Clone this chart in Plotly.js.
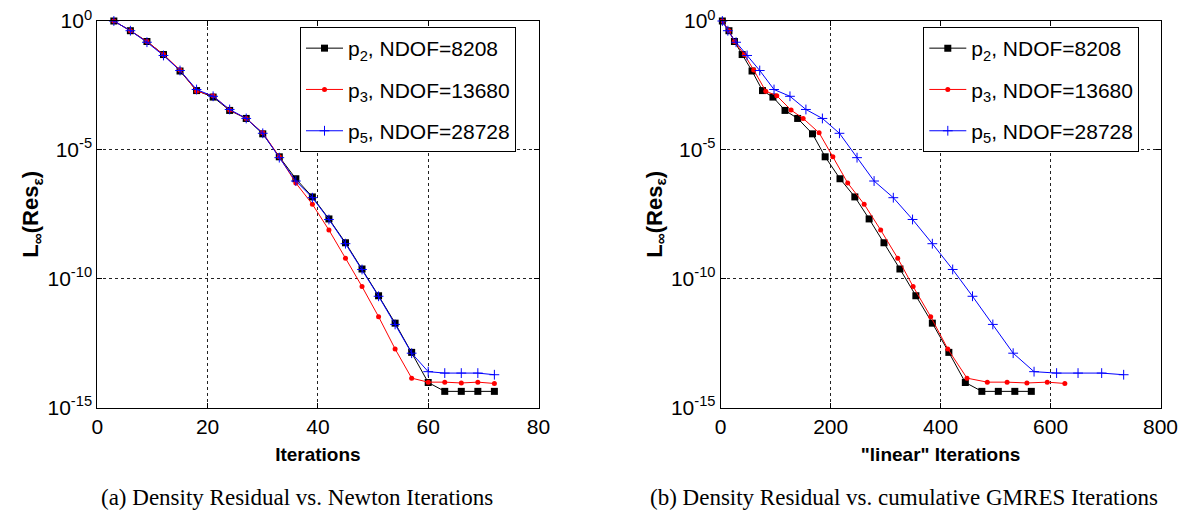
<!DOCTYPE html>
<html>
<head>
<meta charset="utf-8">
<script src="https://cdn.plot.ly/plotly-3.0.1.min.js"></script>
<style>html,body{margin:0;padding:0;background:#fff;}#chart{width:1191px;height:517px;}</style>
</head>
<body>
<div id="chart"></div>
<script>
// Newton iteration numbers (left panel)
const newtonIters = [3,6,9,12,15,18,21,24,27,30,33,36,39,42,45,48,51,54,57,60,63,66,69,72];
// cumulative GMRES ("linear") iterations (right panel)
const linearP2 = [3,15,25,39,57,76,95,117,140,167,190,217,244,270,297,326,355,385,415,445,475,505,535,565];
const linearP3 = [3,15,25,43,60,82,102,128,150,179,204,231,261,291,322,350,382,413,448,485,521,557,594,626];
const linearP5 = [3,13,28,48,71,97,126,155,185,216,248,279,314,349,385,422,458,495,532,570,611,650,693,733];
// Density residual L_inf
const resP2 = [1,4.2e-1,1.6e-1,5.0e-2,1.15e-2,2.0e-3,1.12e-3,3.4e-4,1.66e-4,4.2e-5,5.4e-6,7.6e-7,1.5e-7,2.1e-8,2.5e-9,2.4e-10,2.2e-11,1.9e-12,1.4e-13,9.5e-15,4.3e-15,4.3e-15,4.3e-15,4.3e-15];
const resP3 = [1,4.2e-1,1.6e-1,5.0e-2,1.26e-2,1.9e-3,1.26e-3,3.5e-4,1.66e-4,4.6e-5,5.4e-6,5.2e-7,7.8e-8,7.8e-9,6.3e-10,5.0e-11,3.4e-12,1.9e-13,1.4e-14,9.8e-15,9.8e-15,9.1e-15,9.8e-15,8.7e-15];
const resP5 = [1,4.2e-1,1.5e-1,4.6e-2,1.2e-2,2.2e-3,1.2e-3,3.7e-4,1.66e-4,4.4e-5,5.0e-6,6.2e-7,1.4e-7,2.0e-8,2.3e-9,2.3e-10,2.1e-11,1.7e-12,1.3e-13,2.5e-14,2.2e-14,2.2e-14,2.2e-14,1.9e-14];
const seriesNames = ['p<sub>2</sub>, NDOF=8208','p<sub>3</sub>, NDOF=13680','p<sub>5</sub>, NDOF=28728'];
const yTickVals = [1e-15,1e-10,1e-5,1];
const yTickText = ['10<sup>-15</sup>','10<sup>-10</sup>','10<sup>-5</sup>','10<sup>0</sup>'];
const xTitles = ['Iterations','"linear" Iterations'];
const captions = ['(a) Density Residual vs. Newton Iterations','(b) Density Residual vs. cumulative GMRES Iterations'];

const styles = [
  {color:'#000000', marker:{symbol:'square', size:7, color:'#000000'}},
  {color:'#ff0000', marker:{symbol:'circle', size:5, color:'#ff0000'}},
  {color:'#0000ff', marker:{symbol:'cross-thin', size:7, color:'#0000ff', line:{color:'#0000ff', width:1}}}
];
const resAll = [resP2,resP3,resP5];
const linAll = [linearP2,linearP3,linearP5];

const traces = [];
for (let i=0;i<3;i++){
  traces.push({x:newtonIters, y:resAll[i], type:'scatter', mode:'lines+markers', name:seriesNames[i],
    line:{color:styles[i].color, width:1}, marker:styles[i].marker, xaxis:'x', yaxis:'y',
    legend:'legend', legendgroup:'a'+i, cliponaxis:false});
}
for (let i=0;i<3;i++){
  traces.push({x:linAll[i], y:resAll[i], type:'scatter', mode:'lines+markers', name:seriesNames[i],
    line:{color:styles[i].color, width:1}, marker:styles[i].marker, xaxis:'x2', yaxis:'y2',
    legend:'legend2', legendgroup:'b'+i, cliponaxis:false});
}

const font = 'Liberation Sans, Arial, sans-serif';
function xax(range, dtick, domain, title, anchor){
  return {domain:domain, range:range, dtick:dtick, tick0:0, anchor:anchor,
    showline:true, linecolor:'#000', linewidth:1, mirror:'ticks', ticks:'inside', ticklen:5, tickcolor:'#000',
    showgrid:true, gridcolor:'#222', griddash:'dot', gridwidth:1, zeroline:false,
    tickfont:{family:font, size:21, color:'#000'},
    title:{text:title, font:{family:font, size:19, color:'#000', weight:'bold'}, standoff:10},
    automargin:false};
}
function yax(domain, anchor){
  return {domain:domain, type:'log', range:[-15,0], tickvals:yTickVals, ticktext:yTickText, anchor:anchor,
    showline:true, linecolor:'#000', linewidth:1, mirror:'ticks', ticks:'inside', ticklen:5, tickcolor:'#000',
    showgrid:true, gridcolor:'#222', griddash:'dot', gridwidth:1, zeroline:false,
    tickfont:{family:font, size:21, color:'#000'},
    title:{text:'L<sub>∞</sub>(Res<sub>ε</sub>)', font:{family:font, size:22, color:'#000', weight:'bold'}, standoff:2},
    automargin:false};
}
const yDom = [1-407.7/517, 1-21/517];
const legendCommon = {bgcolor:'#fff', bordercolor:'#000', borderwidth:1, font:{family:font, size:21, color:'#000'},
  xanchor:'left', yanchor:'top', traceorder:'grouped', tracegroupgap:11, itemwidth:37};

const layout = {
  width:1191, height:517, margin:{l:0,r:0,t:0,b:0}, paper_bgcolor:'#fff', plot_bgcolor:'#fff',
  showlegend:true,
  xaxis: xax([0,80],20,[97.3/1191,538.5/1191],xTitles[0],'y'),
  yaxis: yax(yDom,'x'),
  xaxis2: xax([0,800],200,[720.7/1191,1160.5/1191],xTitles[1],'y2'),
  yaxis2: yax(yDom,'x2'),
  legend: Object.assign({x:300/1191, y:1-27/517}, legendCommon),
  legend2: Object.assign({x:923.3/1191, y:1-27/517}, legendCommon),
  annotations: [
    {text:captions[0], xref:'paper', yref:'paper', x:297/1191, y:1-497/517, xanchor:'center', yanchor:'middle', showarrow:false,
     font:{family:'Liberation Serif, serif', size:23, color:'#000'}},
    {text:captions[1], xref:'paper', yref:'paper', x:904/1191, y:1-497/517, xanchor:'center', yanchor:'middle', showarrow:false,
     font:{family:'Liberation Serif, serif', size:23, color:'#000'}}
  ]
};
Plotly.newPlot('chart', traces, layout, {displayModeBar:false, staticPlot:true});
</script>
</body>
</html>
